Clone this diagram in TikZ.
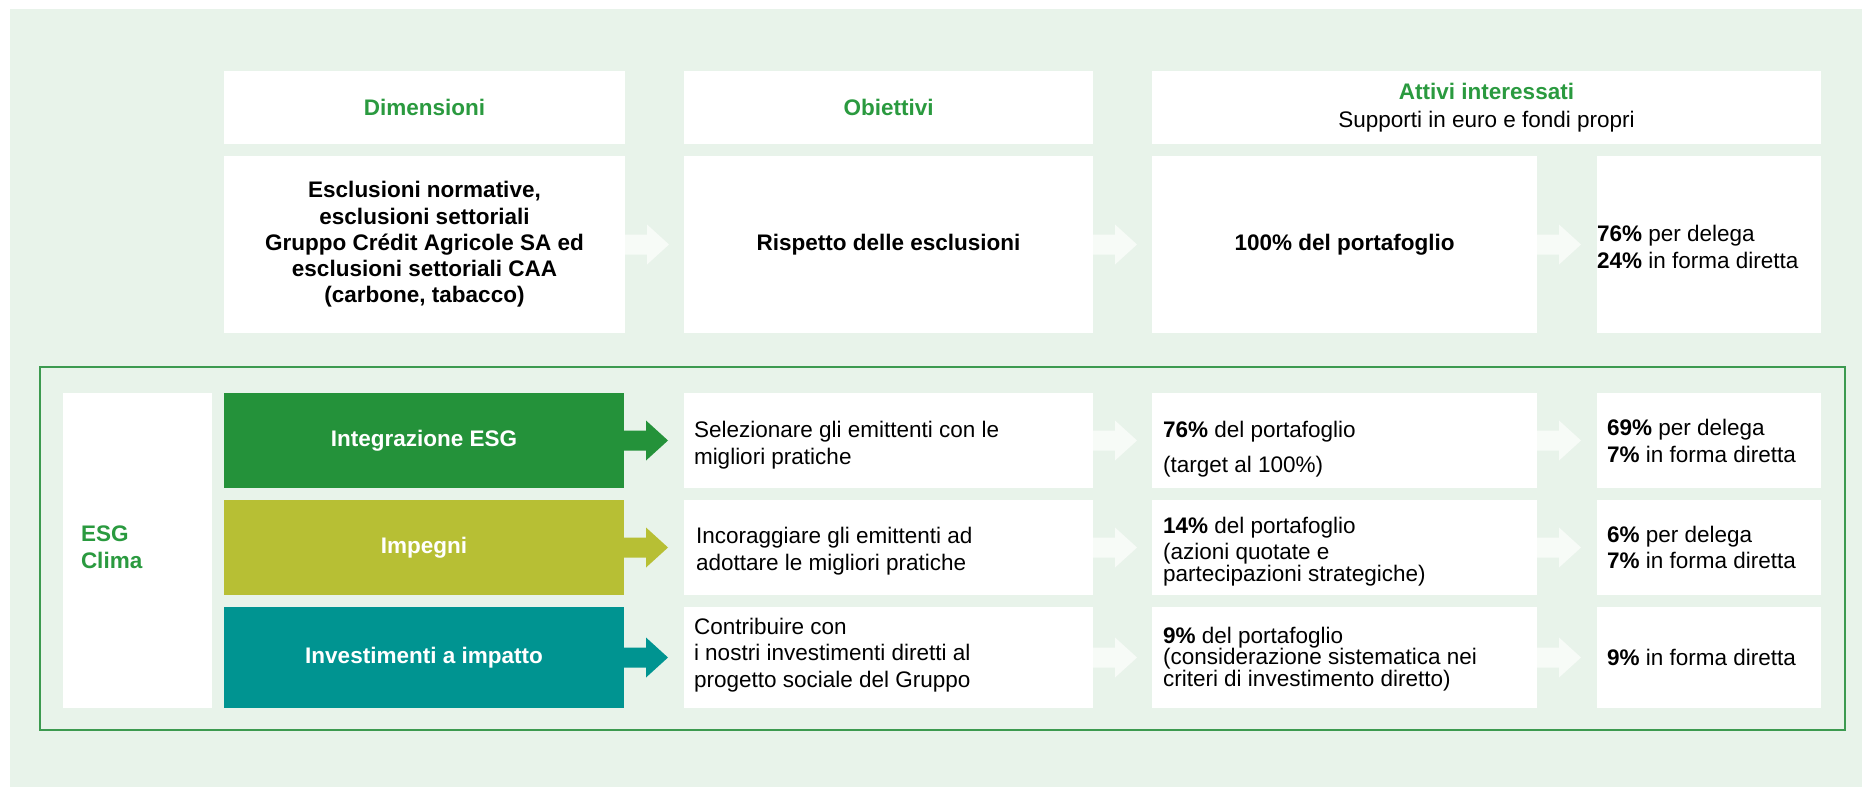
\documentclass[tikz,border=0pt]{standalone}
\usepackage{fontspec}
\setmainfont{Liberation Sans}
\definecolor{bgg}{HTML}{E8F3EA}
\definecolor{framec}{HTML}{3C9A50}
\definecolor{dkgreen}{HTML}{24923A}
\definecolor{olive}{HTML}{B7BF34}
\definecolor{teal}{HTML}{009491}
\definecolor{tgreen}{HTML}{2A9A3F}
\definecolor{arrw}{HTML}{F7FBF7}
\newcommand{\blockarr}[2]{\fill[#2] (#1.east) ++(0,-10) -- ++(22,0) -- ++(0,-10) -- ++(22,20) -- ++(-22,20) -- ++(0,-10) -- ++(-22,0) -- cycle;}
\begin{document}
\begin{tikzpicture}[x=1pt,y=-1pt,
  wbox/.style={fill=white, inner sep=0pt, outer sep=0pt, anchor=north west, align=center},
  cbox/.style={inner sep=0pt, outer sep=0pt, anchor=north west, align=center, text=white, font=\bfseries\fontsize{22.5}{27}\selectfont},
  btxt/.style={font=\bfseries\fontsize{22.5}{26.2}\selectfont},
  gtxt/.style={font=\bfseries\fontsize{22.5}{27}\selectfont, text=tgreen},
  ltxt/.style={anchor=base west, inner sep=0pt, outer sep=0pt, font=\fontsize{22.5}{27}\selectfont},
  ltight/.style={anchor=base west, inner sep=0pt, outer sep=0pt, font=\fontsize{22.5}{21.5}\selectfont}
]
\useasboundingbox (0,0) rectangle (1862,787);
\fill[white] (0,0) rectangle (1862,787);
\fill[bgg] (10,9) rectangle (1862,787);

% header row
\node[wbox, gtxt, minimum width=401pt, minimum height=73pt] (hd1) at (224,71) {Dimensioni};
\node[wbox, gtxt, minimum width=409pt, minimum height=73pt] (hd2) at (684,71) {Obiettivi};
\node[wbox, minimum width=669pt, minimum height=73pt, font=\fontsize{22.5}{28}\selectfont] (hd3) at (1152,71) {{\color{tgreen}\bfseries Attivi interessati}\\Supporti in euro e fondi propri};

% exclusions row
\node[wbox, btxt, minimum width=401pt, minimum height=177pt] (ex1) at (224,156) {Esclusioni normative,\\esclusioni settoriali\\Gruppo Crédit Agricole SA ed\\esclusioni settoriali CAA\\(carbone, tabacco)};
\node[wbox, btxt, minimum width=409pt, minimum height=177pt] (ex2) at (684,156) {Rispetto delle esclusioni};
\node[wbox, btxt, minimum width=385pt, minimum height=177pt] (ex3) at (1152,156) {100\% del portafoglio};
\node[wbox, minimum width=224pt, minimum height=177pt] (ex4) at (1597,156) {};
\node[ltxt] (tex4) at (1597,241) {\parbox[t]{300pt}{\textbf{76\%} per delega\\\textbf{24\%} in forma diretta}};
\blockarr{ex1}{arrw}
\blockarr{ex2}{arrw}
\blockarr{ex3}{arrw}

% frame
\draw[framec, line width=2pt] (40,367) rectangle (1845,730);
\node[wbox, minimum width=149pt, minimum height=315pt] (esg) at (63,393) {};
\node[ltxt, font=\bfseries\fontsize{22.5}{27}\selectfont, text=tgreen] (tesg) at (81,541) {\parbox[t]{120pt}{ESG\\Clima}};

% row a
\node[cbox, fill=dkgreen, minimum width=400pt, minimum height=95pt] (ia1) at (224,393) {Integrazione ESG};
\node[wbox, minimum width=409pt, minimum height=95pt] (ia2) at (684,393) {};
\node[wbox, minimum width=385pt, minimum height=95pt] (ia3) at (1152,393) {};
\node[wbox, minimum width=224pt, minimum height=95pt] (ia4) at (1597,393) {};
\node[ltxt] (tia2) at (694,437) {\parbox[t]{400pt}{Selezionare gli emittenti con le\\migliori pratiche}};
\node[ltxt] (tia3) at (1163,437) {\parbox[t]{370pt}{\textbf{76\%} del portafoglio\\[8pt](target al 100\%)}};
\node[ltxt] (tia4) at (1607,435) {\parbox[t]{250pt}{\textbf{69\%} per delega\\\textbf{7\%} in forma diretta}};
\blockarr{ia1}{dkgreen}
\blockarr{ia2}{arrw}
\blockarr{ia3}{arrw}

% row b
\node[cbox, fill=olive, minimum width=400pt, minimum height=95pt] (im1) at (224,500) {Impegni};
\node[wbox, minimum width=409pt, minimum height=95pt] (im2) at (684,500) {};
\node[wbox, minimum width=385pt, minimum height=95pt] (im3) at (1152,500) {};
\node[wbox, minimum width=224pt, minimum height=95pt] (im4) at (1597,500) {};
\node[ltxt] (tim2) at (696,543) {\parbox[t]{400pt}{Incoraggiare gli emittenti ad\\adottare le migliori pratiche}};
\node[ltight] (tim3) at (1163,533) {\parbox[t]{370pt}{\textbf{14\%} del portafoglio\\[5pt](azioni quotate e\\partecipazioni strategiche)}};
\node[ltxt] (tim4) at (1607,542) {\parbox[t]{250pt}{\textbf{6\%} per delega\\[-1pt]\textbf{7\%} in forma diretta}};
\blockarr{im1}{olive}
\blockarr{im2}{arrw}
\blockarr{im3}{arrw}

% row c
\node[cbox, fill=teal, minimum width=400pt, minimum height=101pt] (iv1) at (224,607) {Investimenti a impatto};
\node[wbox, minimum width=409pt, minimum height=101pt] (iv2) at (684,607) {};
\node[wbox, minimum width=385pt, minimum height=101pt] (iv3) at (1152,607) {};
\node[wbox, minimum width=224pt, minimum height=101pt] (iv4) at (1597,607) {};
\node[ltxt, font=\fontsize{22.5}{26.5}\selectfont] (tiv2) at (694,634) {\parbox[t]{400pt}{Contribuire con\\i nostri investimenti diretti al\\progetto sociale del Gruppo}};
\node[ltight] (tiv3) at (1163,643) {\parbox[t]{370pt}{\textbf{9\%} del portafoglio\\(considerazione sistematica nei\\criteri di investimento diretto)}};
\node[ltxt] (tiv4) at (1607,665) {\parbox[t]{250pt}{\textbf{9\%} in forma diretta}};
\blockarr{iv1}{teal}
\blockarr{iv2}{arrw}
\blockarr{iv3}{arrw}
\end{tikzpicture}
\end{document}
